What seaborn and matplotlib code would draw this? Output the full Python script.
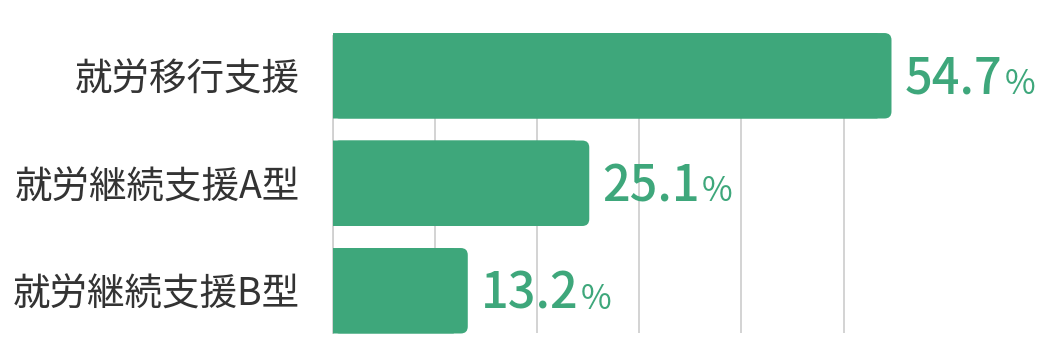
import matplotlib
matplotlib.use("Agg")
import matplotlib.pyplot as plt
from matplotlib.patches import FancyBboxPatch
import seaborn as sns
import pandas as pd

categories = ["就労移行支援", "就労継続支援A型", "就労継続支援B型"]
values = [54.7, 25.1, 13.2]
value_labels = ["54.7", "25.1", "13.2"]
grid_ticks = [0, 10, 20, 30, 40, 50]

GREEN = "#3ea77b"
GRID = "#d0d0d0"
TEXT = "#333333"

sns.set_theme(style="white")
plt.rcParams["font.family"] = ["Noto Sans CJK JP", "DejaVu Sans"]

df = pd.DataFrame({"cat": categories, "val": values})

fig = plt.figure(figsize=(10.5, 3.64), dpi=100)
ax = fig.add_axes([333 / 1050, 1 - 333 / 364, 714.7 / 1050, 297 / 364])

sns.barplot(data=df, x="val", y="cat", orient="h", color=GREEN, width=0.795,
            saturation=1, ax=ax, zorder=3)

ax.set_xlim(0, 70)
ax.set_ylim(2.393, -0.37)

# rounded right corners
px_x = 714.7 / 70.0
px_y = 297 / (2.393 + 0.37)
r_px = 7.0
rx = r_px / px_x
ry = r_px / px_y
for p in list(ax.patches):
    x0, y0 = p.get_x(), p.get_y()
    w, h = p.get_width(), p.get_height()
    p.set_width(w - 2 * rx)
    p.set_edgecolor("none")
    p.set_linewidth(0)
    p.set_snap(False)
    p.set_clip_on(False)
    fb = FancyBboxPatch((x0, y0), w, h,
                        boxstyle=f"round,pad=0,rounding_size={rx}",
                        mutation_aspect=ry / rx,
                        facecolor=GREEN, edgecolor="none", linewidth=0,
                        zorder=2.9, clip_on=False, snap=False)
    ax.add_patch(fb)

# grid
ax.set_xticks(grid_ticks)
ax.set_xticklabels([])
ax.grid(axis="x", color=GRID, linewidth=1.3, zorder=0)
ax.grid(axis="y", visible=False)
for s in ["top", "right", "bottom"]:
    ax.spines[s].set_visible(False)
ax.spines["left"].set_color(GRID)
ax.spines["left"].set_linewidth(1.3)
ax.spines["left"].set_zorder(1)
ax.tick_params(axis="both", length=0)
ax.tick_params(axis="y", pad=24, labelsize=27, labelcolor=TEXT)
ax.set_xlabel("")
ax.set_ylabel("")

# value labels
base_off = 18 / px_y
for i, (v, lab) in enumerate(zip(values, value_labels)):
    t = ax.annotate(lab, xy=(v, i + base_off), xycoords="data",
                    xytext=(9.5, 0), textcoords="offset points",
                    fontsize=35, color=GREEN, va="baseline", ha="left",
                    fontweight="medium")
    ax.annotate("%", xy=(1, i + base_off), xycoords=(t, "data"),
                xytext=(1.5, 0), textcoords="offset points",
                fontsize=24, color=GREEN, va="baseline", ha="left",
                annotation_clip=False)

fig.savefig("out.png", dpi=100)
